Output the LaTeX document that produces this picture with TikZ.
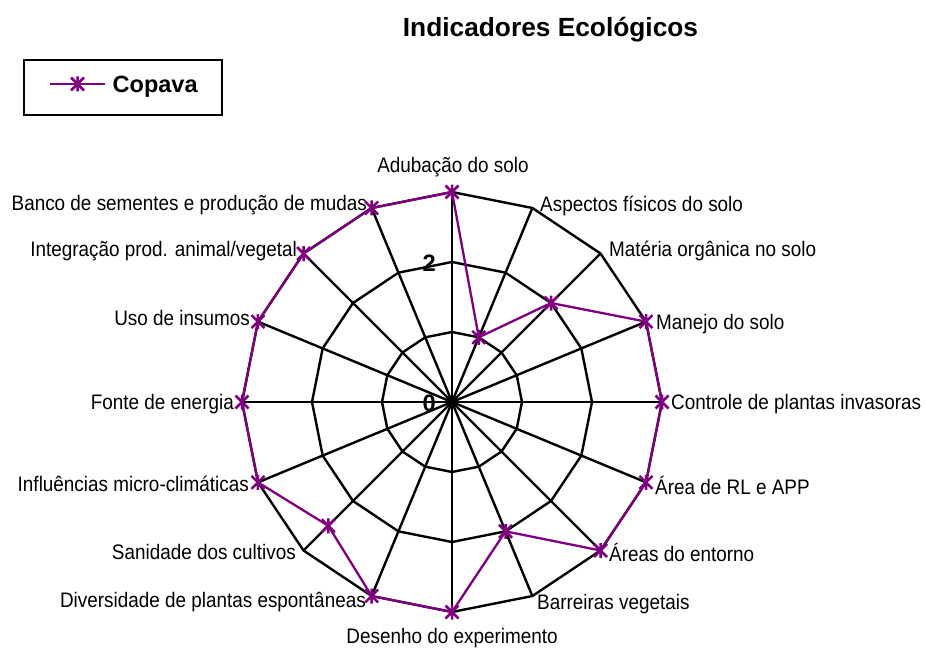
\documentclass[tikz,border=0pt]{standalone}
\usepackage{fontspec}
\setmainfont{Liberation Sans}
\newfontfamily\lblfont{Liberation Sans}[FakeStretch=0.9]
\usetikzlibrary{calc}
\definecolor{copava}{RGB}{128,0,128}
\tikzset{
  gridline/.style={black, line width=2.4pt, line join=miter},
  series/.style={copava, line width=2.3pt, line join=miter},
  lbl/.style={inner sep=0pt, font=\lblfont\fontsize{21}{25}\selectfont},
  lblR/.style={lbl, anchor=base west},
  lblL/.style={lbl, anchor=base east},
  lblC/.style={lbl, anchor=base},
  ringnum/.style={inner sep=0pt, anchor=base east, font=\bfseries\fontsize{23.7}{28}\selectfont},
  astm/.pic={\draw[copava, line width=2.5pt] (-6.5,-6.5)--(6.5,6.5) (-6.5,6.5)--(6.5,-6.5) (0,-7.5)--(0,7.5);}
}
\begin{document}
\begin{tikzpicture}[x=1pt,y=-1pt]
\useasboundingbox (0,0) rectangle (925,650);
% title
\node[inner sep=0pt, anchor=base, font=\bfseries\fontsize{26.3}{30}\selectfont] (title) at (550.5,37) {Indicadores Ecológicos};
% legend
\node[draw, line width=2.4pt, minimum width=198pt, minimum height=55pt, inner sep=0pt, anchor=north west] (legend) at (23,59) {};
\coordinate (la) at (50,84);
\coordinate (lb) at (105,84);
\draw[series] (la) -- (lb);
\pic at (77.5,84) {astm};
\node[inner sep=0pt, anchor=base west, font=\bfseries\fontsize{23.5}{28}\selectfont] (legtext) at (112.5,93) {Copava};
% grid coordinates
\coordinate (c) at (452,402);
\foreach \i in {0,...,15}{
  \pgfmathsetmacro\a{22.5*\i}
  \foreach \k/\r in {1/70,2/140,3/210}{
    \coordinate (r\k-\i) at ({452+\r*sin(\a)},{402-\r*cos(\a)});
  }
}
% rings
\foreach \k in {1,2,3}{
  \draw[gridline] (r\k-0) \foreach \i in {1,...,15}{ -- (r\k-\i)} -- cycle;
}
% axes
\foreach \i in {0,...,15}{
  \draw[gridline] (c) -- (r3-\i);
}
% ring numbers
\node[ringnum] (n2) at (436,271) {2};
\node[ringnum] (n0) at (436,411) {0};
% data
\foreach \i/\v in {0/3,1/1,2/2,3/3,4/3,5/3,6/3,7/2,8/3,9/3,10/2.5,11/3,12/3,13/3,14/3,15/3}{
  \coordinate (d\i) at ({452+70*\v*sin(22.5*\i)},{402-70*\v*cos(22.5*\i)});
}
\draw[series] (d0) \foreach \i in {1,...,15}{ -- (d\i)} -- cycle;
\foreach \i in {0,...,15}{
  \pic at (d\i) {astm};
}
% labels
\node[lblC] (l0) at (453,172.5) {Adubação do solo};
\node[lblR] (l1) at (540,211.5) {Aspectos físicos do solo};
\node[lblR] (l2) at (609,256.5) {Matéria orgânica no solo};
\node[lblR] (l3) at (656,329.5) {Manejo do solo};
\node[lblR] (l4) at (671,409.5) {Controle de plantas invasoras};
\node[lblR] (l5) at (655,494.5) {Área de RL e APP};
\node[lblR] (l6) at (609,561.5) {Áreas do entorno};
\node[lblR] (l7) at (537,609.5) {Barreiras vegetais};
\node[lblC] (l8) at (452,643.5) {Desenho do experimento};
\node[lblL] (l9) at (366,607.5) {Diversidade de plantas espontâneas};
\node[lblL] (l10) at (296,559.5) {Sanidade dos cultivos};
\node[lblL] (l11) at (249,491.5) {Influências micro-climáticas};
\node[lblL] (l12) at (234,409.5) {Fonte de energia};
\node[lblL] (l13) at (250,325.5) {Uso de insumos};
\node[lblL] (l14) at (297,256.5) {Integração prod. animal/vegetal};
\node[lblL] (l15) at (367,210.5) {Banco de sementes e produção de mudas};
\end{tikzpicture}
\end{document}
